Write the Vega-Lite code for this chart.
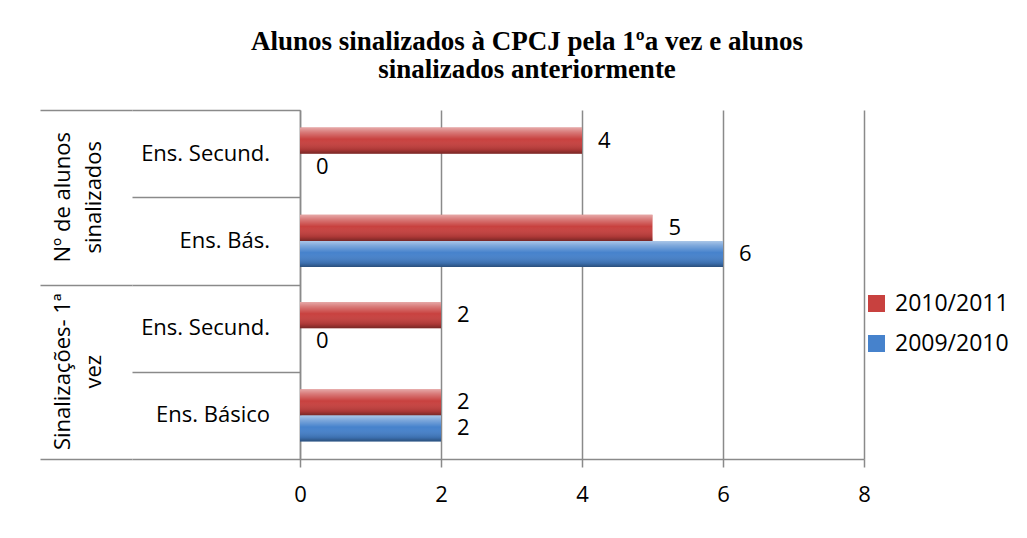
{
  "$schema": "https://vega.github.io/schema/vega-lite/v6.json",
  "background": "white",
  "padding": {"left": 40, "top": 28, "right": 5, "bottom": 5},
  "title": {
    "text": ["Alunos sinalizados à CPCJ pela 1ºa vez e alunos", "sinalizados anteriormente"],
    "font": "Liberation Serif",
    "fontSize": 27,
    "fontWeight": "bold",
    "lineHeight": 28,
    "color": "black",
    "anchor": "start",
    "align": "center",
    "dx": 487,
    "offset": 26
  },
  "datasets": {
    "grupos": [
      {"grupo": "Nº de alunos sinalizados", "label": "Nº de alunos|sinalizados"},
      {"grupo": "Sinalizações- 1ª vez", "label": "Sinalizações- 1ª|vez"}
    ],
    "categorias": [
      {"cat": "g1a", "label": "Ens. Secund."},
      {"cat": "g1b", "label": "Ens. Bás."},
      {"cat": "g2a", "label": "Ens. Secund."},
      {"cat": "g2b", "label": "Ens. Básico"}
    ],
    "valores": [
      {"cat": "g1a", "serie": "2010/2011", "valor": 4},
      {"cat": "g1a", "serie": "2009/2010", "valor": 0},
      {"cat": "g1b", "serie": "2010/2011", "valor": 5},
      {"cat": "g1b", "serie": "2009/2010", "valor": 6},
      {"cat": "g2a", "serie": "2010/2011", "valor": 2},
      {"cat": "g2a", "serie": "2009/2010", "valor": 0},
      {"cat": "g2b", "serie": "2010/2011", "valor": 2},
      {"cat": "g2b", "serie": "2009/2010", "valor": 2}
    ]
  },
  "spacing": 0,
  "bounds": "flush",
  "resolve": {"scale": {"y": "independent", "x": "independent"}},
  "hconcat": [
    {
      "width": 92,
      "height": 349,
      "data": {"name": "grupos"},
      "mark": {"type": "text", "angle": 270, "lineBreak": "|", "fontSize": 22, "lineHeight": 31, "dy": -23, "color": "black", "baseline": "middle", "align": "center", "font": "Open Sans"},
      "encoding": {
        "y": {
          "field": "grupo", "type": "nominal", "sort": null,
          "scale": {"paddingInner": 0, "paddingOuter": 0},
          "axis": {"grid": true, "tickBand": "extent", "domain": false, "ticks": false, "labels": false, "title": null, "gridColor": "#8a8a8a", "gridWidth": 1.5}
        },
        "text": {"field": "label"}
      }
    },
    {
      "width": 168,
      "height": 349,
      "data": {"name": "categorias"},
      "mark": {"type": "text", "fontSize": 22, "dx": 54, "color": "black", "baseline": "middle", "align": "right", "font": "Open Sans"},
      "encoding": {
        "y": {
          "field": "cat", "type": "nominal", "sort": null,
          "scale": {"paddingInner": 0, "paddingOuter": 0},
          "axis": {"grid": true, "tickBand": "extent", "domain": false, "ticks": false, "labels": false, "title": null, "gridColor": "#8a8a8a", "gridWidth": 1.5}
        },
        "text": {"field": "label"}
      }
    },
    {
      "width": 564,
      "height": 349,
      "data": {"name": "valores"},
      "encoding": {
        "y": {
          "field": "cat", "type": "nominal", "sort": null,
          "scale": {"paddingInner": 0.4, "paddingOuter": 0.2},
          "axis": {"domain": true, "ticks": false, "labels": false, "grid": false, "title": null, "domainColor": "#8a8a8a", "domainWidth": 1.5}
        },
        "yOffset": {"field": "serie", "type": "nominal", "sort": ["2010/2011", "2009/2010"], "scale": {"paddingInner": 0}},
        "x": {
          "field": "valor", "type": "quantitative",
          "scale": {"domain": [0, 8], "nice": false},
          "axis": {"values": [0, 2, 4, 6, 8], "grid": true, "gridColor": "#8a8a8a", "gridWidth": 1.5, "domainColor": "#8a8a8a", "domainWidth": 1.5, "tickColor": "#8a8a8a", "tickWidth": 1.5, "tickSize": 8, "labelFontSize": 22, "labelFont": "Open Sans", "labelColor": "black", "labelPadding": 17, "labelFlush": false, "labelOverlap": false, "title": null}
        }
      },
      "layer": [
        {
          "mark": {"type": "bar"},
          "encoding": {
            "color": {
              "field": "serie", "type": "nominal",
              "scale": {"domain": ["2010/2011", "2009/2010"], "range": ["#C8413F", "#4682CC"]},
              "legend": {"orient": "none", "legendX": 825, "legendY": 182, "title": null, "symbolType": "square", "symbolSize": 289, "labelFontSize": 23, "labelFont": "Open Sans", "labelColor": "black", "rowPadding": 16, "labelOffset": 7, "symbolStrokeWidth": 0, "padding": 0}
            }
          }
        },
        {
          "mark": {
            "type": "bar",
            "fill": {
              "gradient": "linear", "x1": 0, "y1": 0, "x2": 0, "y2": 1,
              "stops": [
                {"offset": 0, "color": "rgba(255,255,255,0.55)"},
                {"offset": 0.18, "color": "rgba(255,255,255,0.3)"},
                {"offset": 0.45, "color": "rgba(255,255,255,0)"},
                {"offset": 0.85, "color": "rgba(0,0,0,0.15)"},
                {"offset": 1, "color": "rgba(0,0,0,0.4)"}
              ]
            }
          }
        },
        {
          "mark": {"type": "text", "align": "left", "dx": 16, "baseline": "middle", "fontSize": 22, "font": "Open Sans", "color": "black"},
          "encoding": {"text": {"field": "valor", "type": "quantitative"}}
        }
      ]
    }
  ],
  "config": {
    "view": {"stroke": null},
    "font": "Open Sans"
  }
}
